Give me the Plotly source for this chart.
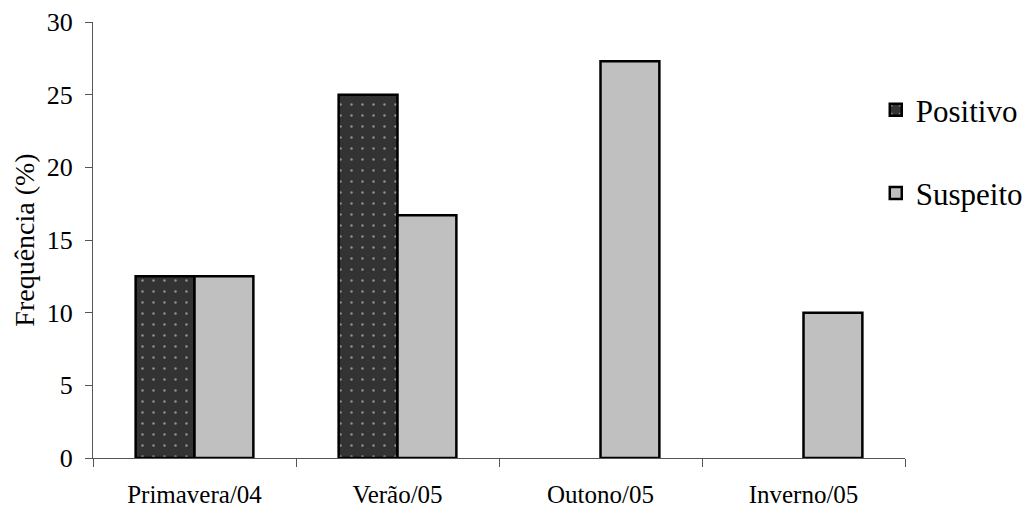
import plotly.graph_objects as go

estacoes = ["Primavera/04", "Verão/05", "Outono/05", "Inverno/05"]
positivo = [12.5, 25.0, 0.0, 0.0]
suspeito = [12.5, 16.7, 27.3, 10.0]
y_ticks = [0, 5, 10, 15, 20, 25, 30]

# no outline for empty bars
contorno_pos = [2.5 if v > 0 else 0 for v in positivo]
contorno_sus = [2.5 if v > 0 else 0 for v in suspeito]

fig = go.Figure()
fig.add_trace(go.Bar(
    x=estacoes, y=positivo, name="Positivo", legendgroup="p",
    marker=dict(
        color="#333333",
        line=dict(color="black", width=contorno_pos),
        pattern=dict(shape=".", fgcolor="#f0f0f0", bgcolor="#333333",
                     size=11, solidity=0.04, fillmode="overlay"),
    ),
))
fig.add_trace(go.Bar(
    x=estacoes, y=suspeito, name="Suspeito", legendgroup="s",
    marker=dict(color="#c0c0c0", line=dict(color="black", width=contorno_sus)),
))

font = "Liberation Serif, Times New Roman, serif"
axis_col = "#555555"
fig.update_layout(
    width=1033, height=508,
    margin=dict(l=93, r=128, t=22, b=50, autoexpand=False),
    paper_bgcolor="white", plot_bgcolor="white",
    barmode="group", bargap=0.42, bargroupgap=0,
    font=dict(family=font, color="black"),
    showlegend=True,
    legend=dict(x=0.964, xanchor="left", y=0.86, yanchor="top",
                font=dict(size=31, family=font), tracegroupgap=40,
                bgcolor="rgba(0,0,0,0)"),
    xaxis=dict(
        showline=True, linecolor=axis_col, linewidth=1,
        ticks="outside", tickson="boundaries", ticklen=8,
        tickcolor=axis_col, tickfont=dict(size=25),
        ticklabelstandoff=14, showgrid=False,
    ),
    yaxis=dict(
        range=[0, 30], tickvals=y_ticks,
        showline=True, linecolor=axis_col, linewidth=1,
        ticks="outside", ticklen=7, tickcolor=axis_col,
        tickfont=dict(size=26), ticklabelstandoff=7,
        showgrid=False, zeroline=False,
        title=dict(text="Frequência (%)", font=dict(size=28), standoff=3),
    ),
)

fig.write_html("out.html")
